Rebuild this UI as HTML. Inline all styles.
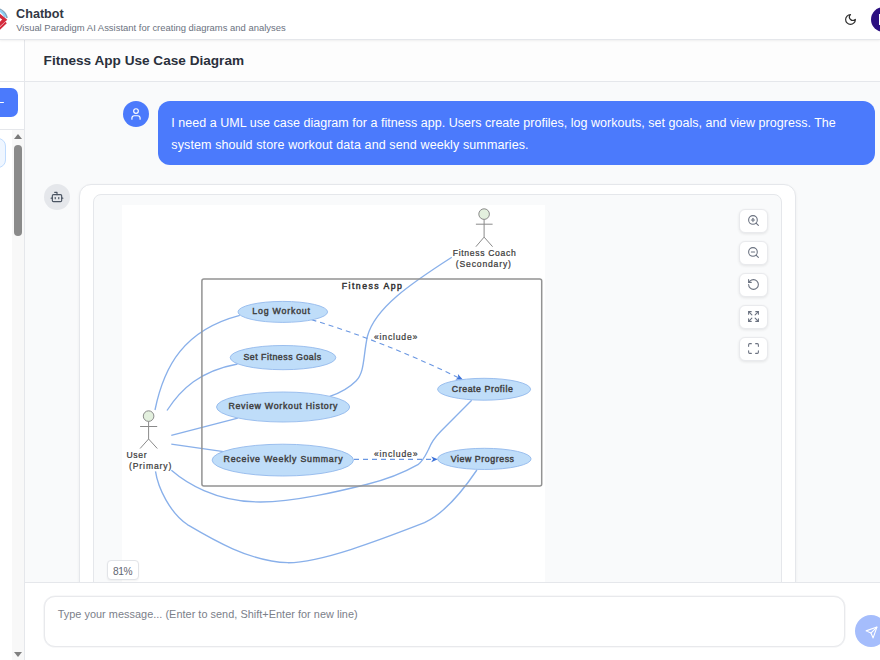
<!DOCTYPE html>
<html><head><meta charset="utf-8">
<style>
*{box-sizing:border-box;margin:0;padding:0}
html,body{width:880px;height:660px;overflow:hidden;background:#f9fafb;font-family:"Liberation Sans",sans-serif}
.abs{position:absolute}
#hdr{left:0;top:0;width:880px;height:40px;background:#fff;border-bottom:1px solid #e5e7eb;box-shadow:0 1px 2px rgba(0,0,0,0.06);z-index:5}
#side{left:0;top:39px;width:25px;height:621px;background:#fff;border-right:1px solid #e5e7eb}
#titlebar{left:25px;top:39px;width:855px;height:43px;background:#fdfdfd;border-bottom:1px solid #e5e7eb}
#inputarea{left:25px;top:582px;width:855px;height:78px;background:#fff;border-top:1px solid #e5e7eb}
.t{position:absolute;white-space:nowrap;line-height:1}
</style></head>
<body>
<!-- header -->
<div id="hdr" class="abs">
  <svg class="abs" style="left:0;top:0" width="12" height="38" viewBox="0 0 12 38">
    <path d="M-17,19.5 A12.2,12.2 0 0 1 7.1,18" fill="none" stroke="#86a7bf" stroke-width="1.5"/>
    <path d="M-15,19.5 A10.2,10.2 0 0 1 5.1,17.5" fill="none" stroke="#8ed1f6" stroke-width="2"/>
    <path d="M-4,10.5 L7.3,19.7 L-1,27.2 L-1,22.8 L2.2,19.6 L-1,17.2 Z" fill="#d42a3c"/>
    <path d="M6.8,23.2 L-1,30.8 L-1,28 L5.4,21.8 Z" fill="#d42a3c"/>
  </svg>
  <div class="t" style="left:16.1px;top:8.2px;font-size:12.6px;font-weight:bold;color:#323844">Chatbot</div>
  <div class="t" style="left:16.2px;top:22.8px;font-size:9.45px;color:#6b7280">Visual Paradigm AI Assistant for creating diagrams and analyses</div>
  <svg class="abs" style="left:844px;top:13px" width="13" height="13" viewBox="0 0 24 24" fill="none" stroke="#2d2d2d" stroke-width="2.2" stroke-linecap="round" stroke-linejoin="round"><path d="M12 3a6 6 0 0 0 9 9 9 9 0 1 1-9-9Z"/></svg>
  <div class="abs" style="left:871px;top:7px;width:25px;height:25px;border-radius:50%;background:#2b0f80"></div>
  <div class="abs" style="left:878.6px;top:14px;width:2px;height:11px;background:#fff"></div>
</div>

<!-- sidebar -->
<div id="side" class="abs">
  <div class="abs" style="left:0;top:42px;width:24px;height:1px;background:#e5e7eb"></div>
  <div class="abs" style="left:-40px;top:49px;width:58px;height:29px;border-radius:7px;background:#4b7afc"></div>
  <div class="abs" style="left:-3px;top:62.5px;width:6.5px;height:1.6px;background:#fff;border-radius:1px"></div>
  <div class="abs" style="left:0;top:90px;width:24px;height:1px;background:#e5e7eb"></div>
  <div class="abs" style="left:-40px;top:99px;width:46px;height:30px;border-radius:8px;background:#eff6ff;border:1px solid #bfdbfe"></div>
  <div class="abs" style="left:12px;top:91px;width:12px;height:530px;background:#f8f8f8"></div>
  <svg class="abs" style="left:13px;top:94px" width="10" height="8"><path d="M5,1 L9,6 L1,6 Z" fill="#7a7a7a"/></svg>
  <div class="abs" style="left:14px;top:106px;width:8px;height:91px;border-radius:4px;background:#8a8a8a"></div>
  <svg class="abs" style="left:13px;top:611.5px" width="10" height="8"><path d="M1,1 L9,1 L5,6 Z" fill="#808080"/></svg>
</div>

<!-- title bar -->
<div id="titlebar" class="abs">
  <div class="t" style="left:18.6px;top:14.7px;font-size:13.6px;font-weight:bold;color:#2a303c">Fitness App Use Case Diagram</div>
</div>

<!-- user message -->
<div class="abs" style="left:123px;top:100.5px;width:26px;height:26px;border-radius:50%;background:#4b7afc"></div>
<svg class="abs" style="left:129px;top:106.6px" width="14" height="14" viewBox="0 0 24 24" fill="none" stroke="#fff" stroke-width="2" stroke-linecap="round" stroke-linejoin="round"><path d="M19 21v-2a4 4 0 0 0-4-4H9a4 4 0 0 0-4 4v2"/><circle cx="12" cy="7" r="4"/></svg>
<div class="abs" style="left:158px;top:101px;width:717px;height:64px;border-radius:12px;background:#4b7afc"></div>
<div class="t" style="left:171.3px;top:116.5px;font-size:12.5px;letter-spacing:0.026px;color:#fff">I need a UML use case diagram for a fitness app. Users create profiles, log workouts, set goals, and view progress. The</div>
<div class="t" style="left:171.3px;top:138.7px;font-size:12.5px;letter-spacing:0.11px;color:#fff">system should store workout data and send weekly summaries.</div>

<!-- bot -->
<div class="abs" style="left:44px;top:184px;width:26px;height:26px;border-radius:50%;background:#e5e7eb"></div>
<svg class="abs" style="left:50px;top:190px" width="14" height="14" viewBox="0 0 24 24" fill="none" stroke="#4b5563" stroke-width="2" stroke-linecap="round" stroke-linejoin="round"><path d="M12 8V4H8"/><rect width="16" height="12" x="4" y="8" rx="2"/><path d="M2 14h2"/><path d="M20 14h2"/><path d="M15 13v2"/><path d="M9 13v2"/></svg>

<div class="abs" style="left:79px;top:184px;width:717px;height:450px;border-radius:12px;background:#fff;border:1px solid #e5e7eb;box-shadow:0 1px 3px rgba(0,0,0,0.06)"></div>
<div class="abs" style="left:93px;top:194px;width:689px;height:440px;border-radius:8px;background:#f9fafb;border:1px solid #e5e7eb"></div>
<div class="abs" style="left:122px;top:205px;width:423px;height:400px;background:#fff"></div>

<!-- DIAGRAM -->
<svg class="abs" style="left:122px;top:205px" width="423" height="377" viewBox="122 205 423 377" font-family="Liberation Sans, sans-serif">
<g fill="none" stroke="#89b0ea" stroke-width="1.35">
  <!-- user -> log workout -->
  <path d="M155,410 C164,366 184,330 239.8,315.4"/>
  <!-- user -> set fitness goals -->
  <path d="M167,410.5 C181,389 200,371 237.5,364"/>
  <!-- user -> review -->
  <path d="M171.3,435.4 L237.8,418.2"/>
  <!-- user -> receive -->
  <path d="M171.3,444.1 L223.6,451.7"/>
  <!-- user -> create profile -->
  <path d="M171.4,470.2 C185,482 215,502 260.5,502 C295,502 340,491 366.4,484.5 C385,480 405,472 417.9,464.7 C424,460 427,452 428.5,449.5 C431,443 436,436 440.6,431.4 L471.7,400.3"/>
  <!-- user -> view progress -->
  <path d="M155.5,471.4 C158,488 170,513 187.7,524.8 C210,538 250,562 287.7,562.7 C320,563 380,540 424.5,522.7 C445,513 462,492 476.9,470"/>
  <!-- coach -> review -->
  <path d="M451.8,257.2 C410,284 375,308 367.5,336 C363,356 365,372 356,381 C348,389 340,393 329.8,396.4"/>
</g>
<!-- include dashed -->
<g fill="none" stroke="#6a97e2" stroke-width="1.1" stroke-dasharray="5,4">
  <path d="M311.6,319.7 Q380,340 458,377.4"/>
  <path d="M354,459.4 L433,459.4"/>
</g>
<g fill="#3d72d9">
  <path d="M463,379.7 L455.4,379.5 L458.3,377.5 L457.9,374 Z"/>
  <path d="M437.8,459.3 L431.2,456.4 L433.1,459.3 L431.2,462.2 Z"/>
</g>
<!-- system boundary -->
<rect x="201.9" y="278.9" width="339.8" height="207.1" rx="2" fill="none" stroke="#939393" stroke-width="1.5"/>
<text x="341.8" y="288.7" font-size="8.7" fill="#333" stroke="#333" stroke-width="0.45" textLength="60" lengthAdjust="spacing">Fitness App</text>
<!-- use cases -->
<g fill="#bfddf9" stroke="#93b9ec" stroke-width="0.9">
  <ellipse cx="282.8" cy="311.9" rx="44.8" ry="10.5"/>
  <ellipse cx="283" cy="357.6" rx="52.8" ry="12.1"/>
  <ellipse cx="283.1" cy="407" rx="66.6" ry="15"/>
  <ellipse cx="282.8" cy="460.1" rx="70.7" ry="15.9"/>
  <ellipse cx="484.1" cy="389.25" rx="46.5" ry="10.95"/>
  <ellipse cx="484.35" cy="458.9" rx="46.75" ry="10.6"/>
</g>
<g font-size="8.8" fill="#404040" stroke="#404040" stroke-width="0.42" lengthAdjust="spacing">
  <text x="252.3" y="314.4" textLength="57.7">Log Workout</text>
  <text x="243.4" y="360" textLength="77.7">Set Fitness Goals</text>
  <text x="228.4" y="408.9" textLength="109.1">Review Workout History</text>
  <text x="223.6" y="462.4" textLength="119">Receive Weekly Summary</text>
  <text x="451.8" y="391.8" textLength="61">Create Profile</text>
  <text x="450.7" y="461.5" textLength="63.3">View Progress</text>
</g>
<g font-size="8.6" fill="#3a3a3a" stroke="#3a3a3a" stroke-width="0.22" lengthAdjust="spacing">
  <text x="374" y="340" textLength="43.3">«include»</text>
  <text x="374" y="456.5" textLength="43.5">«include»</text>
  <text x="126.4" y="458" textLength="20.2">User</text>
  <text x="129" y="469" textLength="42.4">(Primary)</text>
  <text x="452.8" y="255.8" textLength="62.9">Fitness Coach</text>
  <text x="455.8" y="266.6" textLength="55.1">(Secondary)</text>
</g>
<!-- actors -->
<g fill="none" stroke="#8a8a8a" stroke-width="1">
  <circle cx="148.6" cy="416.1" r="5.3" fill="#e3f0de"/>
  <path d="M140.1,426.5 H157.2 M148.6,421.4 V439 L140.1,448.5 M148.6,439 L157.3,448.5"/>
  <circle cx="484.1" cy="214.1" r="5.3" fill="#e3f0de"/>
  <path d="M475.9,224.2 H492.6 M484.1,219.4 V237.1 L475.9,246.7 M484.1,237.1 L492.6,246.7"/>
</g>
</svg>

<!-- zoom controls -->
<div class="abs" style="left:738.6px;top:208.6px;width:29.6px;height:24.8px;border-radius:6px;background:#fff;border:1px solid #e9eaed;box-shadow:0 1px 3px rgba(0,0,0,0.09)"></div>
<svg class="abs" style="left:746.8px;top:213.9px" width="13" height="13" viewBox="0 0 24 24" fill="none" stroke="#6b7280" stroke-width="2" stroke-linecap="round" stroke-linejoin="round"><circle cx="11" cy="11" r="8"/><path d="m21 21-4.3-4.3"/><path d="M11 8v6"/><path d="M8 11h6"/></svg>
<div class="abs" style="left:738.6px;top:240.6px;width:29.6px;height:24.8px;border-radius:6px;background:#fff;border:1px solid #e9eaed;box-shadow:0 1px 3px rgba(0,0,0,0.09)"></div>
<svg class="abs" style="left:746.8px;top:245.9px" width="13" height="13" viewBox="0 0 24 24" fill="none" stroke="#6b7280" stroke-width="2" stroke-linecap="round" stroke-linejoin="round"><circle cx="11" cy="11" r="8"/><path d="m21 21-4.3-4.3"/><path d="M8 11h6"/></svg>
<div class="abs" style="left:738.6px;top:272.6px;width:29.6px;height:24.8px;border-radius:6px;background:#fff;border:1px solid #e9eaed;box-shadow:0 1px 3px rgba(0,0,0,0.09)"></div>
<svg class="abs" style="left:746.8px;top:277.9px" width="13" height="13" viewBox="0 0 24 24" fill="none" stroke="#6b7280" stroke-width="2" stroke-linecap="round" stroke-linejoin="round"><path d="M3 12a9 9 0 1 0 9-9 9.75 9.75 0 0 0-6.74 2.74L3 8"/><path d="M3 3v5h5"/></svg>
<div class="abs" style="left:738.6px;top:304.6px;width:29.6px;height:24.8px;border-radius:6px;background:#fff;border:1px solid #e9eaed;box-shadow:0 1px 3px rgba(0,0,0,0.09)"></div>
<svg class="abs" style="left:746.8px;top:309.9px" width="13" height="13" viewBox="0 0 24 24" fill="none" stroke="#6b7280" stroke-width="2" stroke-linecap="round" stroke-linejoin="round"><path d="m15 15 6 6"/><path d="m15 9 6-6"/><path d="M21 16.2V21h-4.8"/><path d="M21 7.8V3h-4.8"/><path d="M3 16.2V21h4.8"/><path d="m3 21 6-6"/><path d="M3 7.8V3h4.8"/><path d="M9 9 3 3"/></svg>
<div class="abs" style="left:738.6px;top:336.6px;width:29.6px;height:24.8px;border-radius:6px;background:#fff;border:1px solid #e9eaed;box-shadow:0 1px 3px rgba(0,0,0,0.09)"></div>
<svg class="abs" style="left:746.8px;top:341.9px" width="13" height="13" viewBox="0 0 24 24" fill="none" stroke="#6b7280" stroke-width="2" stroke-linecap="round" stroke-linejoin="round"><path d="M8 3H5a2 2 0 0 0-2 2v3"/><path d="M21 8V5a2 2 0 0 0-2-2h-3"/><path d="M3 16v3a2 2 0 0 0 2 2h3"/><path d="M16 21h3a2 2 0 0 0 2-2v-3"/></svg>


<div class="abs" style="left:106.6px;top:560.2px;width:32px;height:20px;border-radius:4px;background:#fff;border:1px solid #e2e4e8;box-shadow:0 1px 2px rgba(0,0,0,0.05)"></div><div class="t" style="left:113.1px;top:567px;font-size:10.2px;letter-spacing:-0.45px;color:#5f6570">81%</div>

<!-- input area -->
<div id="inputarea" class="abs">
  <div class="abs" style="left:19px;top:13px;width:801px;height:51px;border-radius:11px;border:1px solid #e8e9ec;background:#fff;box-shadow:0 0 0 0.6px #f1f2f4"></div>
  <div class="t" style="left:32.7px;top:25.6px;font-size:10.9px;letter-spacing:0.03px;color:#7b808a">Type your message... (Enter to send, Shift+Enter for new line)</div>
  <div class="abs" style="left:830px;top:32px;width:32px;height:32px;border-radius:50%;background:#a5bdfc"></div>
  <svg class="abs" style="left:840px;top:42.5px" width="13" height="13" viewBox="0 0 24 24" fill="none" stroke="#fff" stroke-width="2" stroke-linecap="round" stroke-linejoin="round"><path d="m22 2-7 20-4-9-9-4Z"/><path d="M22 2 11 13"/></svg>
</div>
</body></html>
